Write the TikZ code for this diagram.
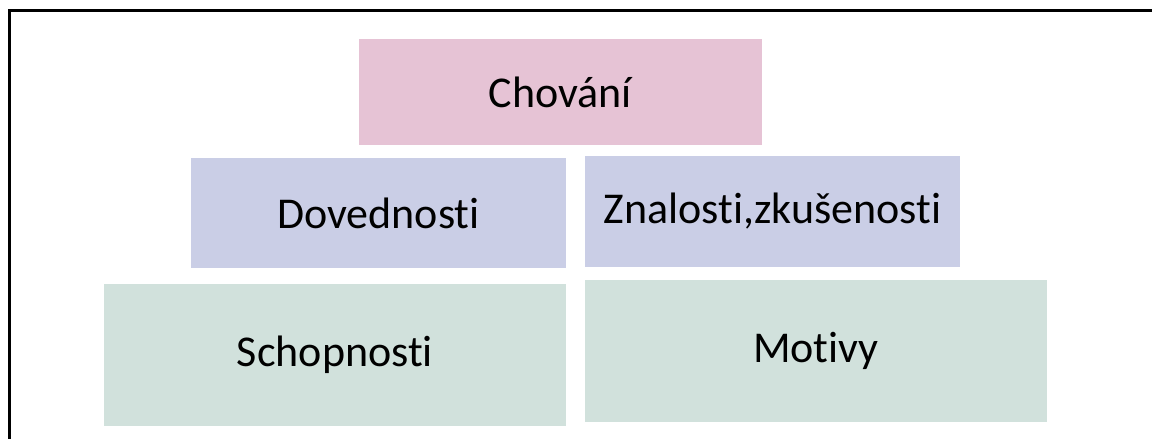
\documentclass[tikz,border=0pt]{standalone}
\usepackage{fontspec}
\setmainfont{Carlito}[Ligatures=CommonOff]
\usepackage{tikz}

\definecolor{rosebox}{RGB}{230,195,213}
\definecolor{lilacbox}{RGB}{202,206,230}
\definecolor{sagebox}{RGB}{209,225,220}

\begin{document}
\begin{tikzpicture}[x=0.5pt,y=-0.5pt]
\tikzstyle{level1}=[fill=rosebox, rectangle, inner sep=0pt, font=\fontsize{22}{26}\selectfont]
\tikzstyle{level2}=[fill=lilacbox, rectangle, inner sep=0pt, font=\fontsize{22}{26}\selectfont]
\tikzstyle{level3}=[fill=sagebox, rectangle, inner sep=0pt, font=\fontsize{22}{26}\selectfont]

\useasboundingbox (0,0) rectangle (1152,439);
\draw[line width=1.3pt] (9.5,439) -- (9.5,10.5) -- (1152,10.5);

\node (k1) at (560.5,92) [level1, minimum width=201.5pt, minimum height=53pt] {Chování};
\node (k2) at (378.5,213) [level2, minimum width=187.5pt, minimum height=55pt] {Dovednosti};
\node (k3) at (772.5,211.5) [level2, minimum width=187.5pt, minimum height=55.5pt] {Znalosti,zkušenosti};
\node (k4) at (335,355) [level3, minimum width=231pt, minimum height=71pt] {Schopnosti};
\node (k5) at (816,351) [level3, minimum width=231pt, minimum height=71pt] {Motivy};
\end{tikzpicture}
\end{document}
